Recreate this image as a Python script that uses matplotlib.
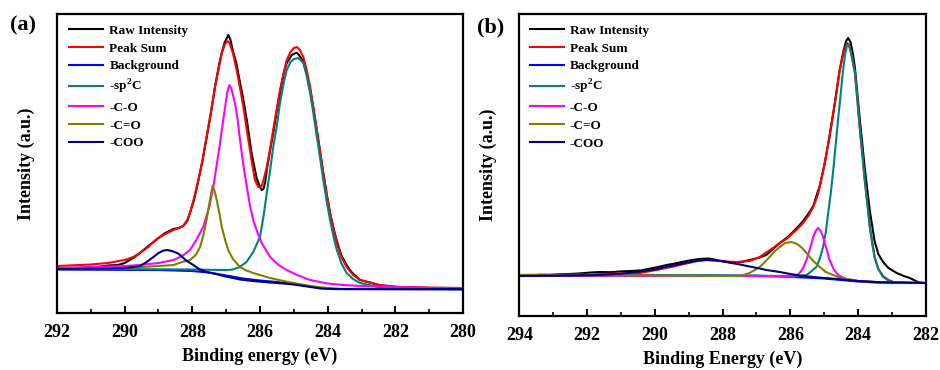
import matplotlib
matplotlib.use("Agg")
import matplotlib.pyplot as plt
from matplotlib.ticker import MultipleLocator

plt.rcParams['font.family'] = ['Liberation Serif', 'DejaVu Serif']
plt.rcParams['font.weight'] = 'bold'
plt.rcParams['mathtext.fontset'] = 'custom'
plt.rcParams['mathtext.rm'] = 'Liberation Serif:bold'
plt.rcParams['mathtext.bf'] = 'Liberation Serif:bold'

# ---- panel (a): binding energy (eV) / intensity (a.u.) ----
a_raw_x = [292.0, 291.7, 291.4, 291.1, 290.8, 290.5, 290.2, 290.0, 289.75, 289.55, 289.3, 289.15, 289.0, 288.8,
           288.56, 288.4, 288.27, 288.15, 288.07, 287.95, 287.82, 287.7, 287.58, 287.45, 287.33, 287.2, 287.13,
           287.05, 286.98, 286.94, 286.88, 286.8, 286.7, 286.6, 286.5, 286.39, 286.25, 286.1, 286.0, 285.95,
           285.9, 285.85, 285.8, 285.7, 285.61, 285.5, 285.41, 285.3, 285.21, 285.06, 284.95, 284.9, 284.85,
           284.72, 284.62, 284.52, 284.42, 284.32, 284.22, 284.13, 284.03, 283.93, 283.83, 283.73, 283.6, 283.44,
           283.3, 283.2, 283.04, 282.7, 282.5, 282.0, 281.5, 281.0, 280.5, 280.0]
a_raw_y = [44, 44.5, 44, 45.5, 46, 47.5, 48, 50, 55, 60, 67, 71, 75, 80,
           84, 85, 87, 92, 100, 113, 133, 152, 175, 200, 226, 250, 260,
           270, 275, 278, 274, 262, 250, 232, 215, 193, 160, 135, 126, 123,
           124, 130, 143, 163, 180, 203, 220, 240, 250, 258, 260, 260, 258,
           252, 239, 224, 204, 182, 160, 140, 119, 100, 85, 72, 58, 48,
           41, 38, 33, 30, 28, 26, 25.5, 25, 24.5, 24]

a_sum_x = [292.0, 291.0, 290.5, 290.0, 289.75, 289.55, 289.3, 289.15, 289.0, 288.8, 288.56, 288.4, 288.27, 288.15,
           288.07, 287.95, 287.82, 287.7, 287.58, 287.45, 287.33, 287.2, 287.13, 287.05, 286.98, 286.9, 286.8,
           286.69, 286.59, 286.49, 286.39, 286.25, 286.15, 286.05, 285.95, 285.88, 285.8, 285.7, 285.61, 285.5,
           285.41, 285.3, 285.21, 285.1, 285.0, 284.91, 284.82, 284.72, 284.62, 284.52, 284.42, 284.32, 284.22,
           284.13, 284.03, 283.93, 283.83, 283.73, 283.6, 283.44, 283.25, 283.04, 282.7, 282.45, 281.86, 281.0, 280.0]
a_sum_y = [47, 48.5, 50, 53, 56, 60, 66, 71, 75, 79, 83, 85, 87, 93,
           100, 115, 133, 153, 176, 201, 226, 248, 260, 268, 272, 270, 260,
           243, 225, 206, 183, 153, 133, 126, 127, 135, 146, 164, 183, 205,
           223, 240, 253, 261, 265, 266, 263, 256, 243, 226, 205, 183, 161,
           140, 119, 100, 84, 70, 56, 46, 38, 33, 30, 28, 26, 25.5, 25]

a_bg_x = [292.0, 289.0, 288.0, 287.5, 287.0, 286.5, 286.0, 285.5, 285.0, 284.6, 284.2, 283.8, 280.0]
a_bg_y = [43.5, 43, 42, 40.5, 37.5, 34.5, 32.5, 31, 29, 27, 25, 24, 23.5]

a_sp2_x = [292.0, 290.0, 288.0, 287.0, 286.8, 286.6, 286.4, 286.2, 286.0, 285.9, 285.8, 285.7, 285.61, 285.5,
           285.41, 285.3, 285.21, 285.1, 285.0, 284.88, 284.8, 284.72, 284.62, 284.52, 284.42, 284.32, 284.22,
           284.13, 284.03, 283.93, 283.83, 283.73, 283.6, 283.44, 283.25, 283.04, 282.5, 282.0, 280.0]
a_sp2_y = [44, 44, 43.5, 43, 43.5, 46, 51, 61, 76, 96, 120, 143, 166, 188,
           210, 230, 243, 251, 254, 255, 253, 250, 237, 220, 199, 176, 154,
           133, 112, 93, 77, 63, 50, 40, 34, 30, 26, 25, 24]

a_co_x = [292.0, 291.0, 290.0, 289.55, 289.0, 288.56, 288.3, 288.07, 287.9, 287.68, 287.5, 287.38, 287.28, 287.18,
          287.1, 287.03, 286.97, 286.91, 286.85, 286.74, 286.66, 286.59, 286.5, 286.39, 286.3, 286.2, 286.07,
          285.95, 285.7, 285.45, 285.21, 284.9, 284.52, 284.0, 283.54, 283.0, 282.06, 281.0, 280.0]
a_co_y = [45, 46, 47, 48, 50, 53, 57, 63, 72, 86, 106, 126, 148, 170,
          190, 206, 220, 228, 225, 210, 193, 173, 150, 126, 108, 93, 80,
          70, 56, 48, 43, 38, 33, 29.5, 28, 27, 26, 25, 24.5]

a_cdo_x = [292.0, 290.0, 289.55, 289.0, 288.56, 288.3, 288.07, 287.9, 287.77, 287.67, 287.58, 287.48, 287.43, 287.4,
           287.35, 287.28, 287.2, 287.13, 287.03, 286.94, 286.8, 286.59, 286.4, 286.2, 286.0, 285.7, 285.3,
           285.0, 284.5, 284.0, 283.5, 280.0]
a_cdo_y = [44, 45, 46, 47, 48, 51, 53, 58, 66, 78, 93, 113, 122, 127,
           123, 113, 100, 86, 73, 63, 54, 46, 42.5, 40, 38, 35, 32,
           30, 27, 25, 24, 24]

a_coo_x = [292.0, 290.5, 290.0, 289.75, 289.55, 289.35, 289.15, 289.0, 288.85, 288.74, 288.6, 288.45, 288.36, 288.2,
           287.97, 287.8, 287.58, 287.3, 287.08, 286.8, 286.59, 286.2, 285.7, 285.3, 285.0, 284.6, 284.2,
           283.8, 280.0]
a_coo_y = [44, 44.5, 45, 46, 47, 51, 56, 60, 62.5, 63, 62, 60, 58, 53,
           48, 44, 41, 39, 37, 35, 33.5, 32, 30.5, 29.5, 28.5, 26.5, 24.5,
           24, 24]

# ---- panel (b) ----
b_raw_x = [294.0, 293.7, 293.4, 293.1, 292.8, 292.5, 292.2, 291.9, 291.6, 291.3, 291.0, 290.7, 290.4, 290.2,
           289.9, 289.65, 289.4, 289.2, 288.9, 288.67, 288.4, 288.18, 287.9, 287.68, 287.45, 287.2, 286.95,
           286.71, 286.51, 286.31, 286.11, 285.92, 285.75, 285.62, 285.45, 285.32, 285.2, 285.13, 284.98,
           284.84, 284.68, 284.54, 284.43, 284.35, 284.29, 284.22, 284.15, 284.09, 283.95, 283.8, 283.65,
           283.51, 283.4, 283.26, 283.1, 282.86, 282.65, 282.47, 282.23, 282.1]
b_raw_y = [41, 40.5, 41.2, 41, 41.8, 42, 42.6, 43.5, 44, 43.8, 44.6, 45, 45.6, 47,
           49, 51, 52.5, 54, 56, 57, 57.5, 56, 54, 53, 54, 56, 58,
           61, 67, 73, 78, 84, 90, 95, 103, 110, 123, 130, 153,
           180, 214, 246, 265, 275, 278, 274, 262, 248, 198, 148, 105,
           75, 62, 54, 48, 43, 40, 38, 34, 33]

b_sum_x = [294.0, 292.0, 291.0, 290.44, 289.95, 289.45, 289.0, 288.67, 288.47, 288.2, 287.9, 287.59, 287.2, 286.9,
           286.51, 286.31, 286.11, 285.92, 285.82, 285.62, 285.45, 285.32, 285.2, 285.13, 284.98, 284.84,
           284.68, 284.54, 284.43, 284.36, 284.31, 284.25, 284.17, 284.09, 283.95, 283.8, 283.65, 283.51,
           283.4, 283.26, 283.1, 282.96, 282.5, 282.0]
b_sum_y = [41, 41.5, 42.5, 43, 46, 49.5, 53, 55.5, 56, 55.5, 54.5, 54, 55, 59,
           68, 73, 77, 83, 86, 93, 101, 109, 120, 129, 153, 179,
           213, 246, 263, 270, 273, 270, 258, 243, 189, 136, 89, 59,
           47, 40, 36, 34, 33, 33]

b_bg_x = [294.0, 290.0, 288.0, 287.0, 286.3, 285.6, 285.0, 284.5, 284.0, 283.5, 283.0, 282.0]
b_bg_y = [40.5, 40.5, 40.3, 40, 39.5, 38.5, 37.5, 36, 34.5, 33.5, 33, 33]

b_sp2_x = [294.0, 290.0, 287.0, 286.0, 285.92, 285.52, 285.4, 285.23, 285.13, 285.03, 284.95, 284.88, 284.8,
           284.73, 284.66, 284.59, 284.52, 284.44, 284.38, 284.32, 284.27, 284.2, 284.09, 284.02, 283.95,
           283.87, 283.8, 283.72, 283.65, 283.58, 283.51, 283.4, 283.26, 283.1, 282.96, 282.5, 282.0]
b_sp2_y = [41, 41, 40.5, 39.5, 39, 41, 44, 49, 57, 69, 84, 103, 124,
           146, 171, 196, 219, 246, 262, 271, 271, 262, 243, 218, 189,
           162, 136, 111, 89, 73, 59, 47, 39, 35.5, 34, 33, 33]

b_co_x = [294.0, 290.0, 287.0, 286.0, 285.8, 285.72, 285.62, 285.52, 285.42, 285.32, 285.25, 285.18, 285.1,
          285.03, 284.93, 284.84, 284.72, 284.59, 284.45, 284.34, 284.0, 283.5, 283.0, 282.0]
b_co_y = [40, 40, 40, 40, 41, 43, 48, 56, 67, 79, 85, 88, 85,
          79, 67, 56, 47, 41, 38.5, 37, 35, 34, 33.5, 33]

b_cdo_x = [294.0, 290.0, 288.0, 287.49, 287.2, 287.05, 286.9, 286.75, 286.61, 286.45, 286.31, 286.15, 285.96,
           285.8, 285.65, 285.52, 285.35, 285.13, 284.95, 284.73, 284.5, 284.34, 284.0, 283.5, 282.0]
b_cdo_y = [41, 40.5, 40, 40, 43, 46, 49, 54, 59, 65, 69, 73, 74,
           72, 68, 63, 56, 49, 44, 41, 38, 37, 35, 34, 33]

b_coo_x = [294.0, 293.0, 292.0, 291.62, 291.0, 290.64, 290.44, 290.0, 289.65, 289.45, 289.1, 288.8, 288.47,
           288.2, 287.9, 287.68, 287.49, 287.2, 286.9, 286.71, 286.51, 286.31, 286.0, 285.72, 285.32, 285.0,
           284.6, 284.34, 284.0, 283.5, 283.0, 282.0]
b_coo_y = [40, 40.3, 40.7, 41, 42.3, 43.7, 44.5, 46.5, 49.3, 50.5, 53, 55, 56,
           55.5, 54.3, 52.7, 51.5, 49.5, 47.5, 46, 45, 44, 42, 40.5, 39, 38,
           37, 36, 35, 34, 33.5, 33]

labels = ['Raw Intensity', 'Peak Sum', 'Background', r'-sp$^\mathbf{2}$C', '-C-O', '-C=O', '-COO']
colors = ['#000000', '#FF0000', '#0000FF', '#008080', '#FF00FF', '#808000', '#000080']

fig = plt.figure(figsize=(9.4, 3.7), dpi=100)
ax1 = fig.add_axes([0.0606, 0.154, 0.432, 0.808])
ax2 = fig.add_axes([0.5525, 0.146, 0.4323, 0.816])

panels = [
    (ax1, [(a_raw_x, a_raw_y), (a_sum_x, a_sum_y), (a_bg_x, a_bg_y), (a_sp2_x, a_sp2_y),
           (a_co_x, a_co_y), (a_cdo_x, a_cdo_y), (a_coo_x, a_coo_y)],
     (292, 280), 299, 'Binding energy (eV)', 0.03),
    (ax2, [(b_raw_x, b_raw_y), (b_sum_x, b_sum_y), (b_bg_x, b_bg_y), (b_sp2_x, b_sp2_y),
           (b_co_x, b_co_y), (b_cdo_x, b_cdo_y), (b_coo_x, b_coo_y)],
     (294, 282), 302, 'Binding Energy (eV)', 0.025),
]

for ax, curves, xlim, ytop, xlabel, legx in panels:
    for (x, y), c, lab in zip(curves, colors, labels):
        ax.plot(x, y, color=c, lw=1.5, label=lab)
    ax.set_xlim(*xlim)
    ax.set_ylim(0, ytop)
    ax.set_yticks([])
    ax.xaxis.set_major_locator(MultipleLocator(2))
    ax.xaxis.set_minor_locator(MultipleLocator(1))
    ax.tick_params(axis='x', which='major', direction='in', length=5, width=1.4,
                   labelsize=13, pad=8)
    ax.tick_params(axis='x', which='minor', direction='in', length=3, width=1.2)
    for s in ax.spines.values():
        s.set_linewidth(1.6)
    ax.set_xlabel(xlabel, fontsize=13, fontweight='bold', labelpad=5)
    ax.set_ylabel('Intensity (a.u.)', fontsize=13, fontweight='bold', labelpad=16)
    ax.legend(loc='upper left', bbox_to_anchor=(legx, 0.965), frameon=False, fontsize=9.5,
              handlelength=2.6, handletextpad=0.45, labelspacing=0.42, borderaxespad=0, borderpad=0)

fig.text(0.011, 0.932, '(a)', fontsize=16, fontweight='bold', va='center')
fig.text(0.507, 0.927, '(b)', fontsize=16, fontweight='bold', va='center')

fig.savefig('out.png', dpi=100)
